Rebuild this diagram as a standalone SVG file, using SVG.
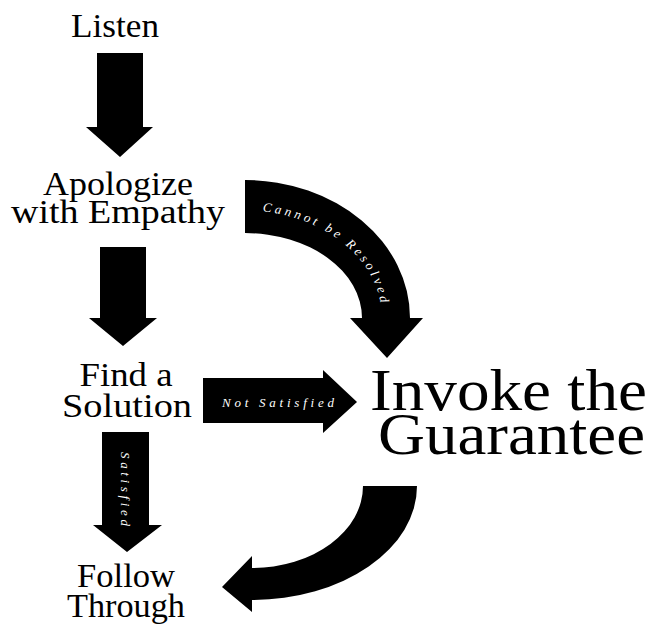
<svg xmlns="http://www.w3.org/2000/svg" width="656" height="631" viewBox="0 0 656 631">
  <style>
    .step { font-family: "Liberation Serif", "DejaVu Serif", serif; font-size: 34px; fill: #000; text-anchor: middle; }
    .big { font-family: "Liberation Serif", "DejaVu Serif", serif; font-size: 60px; fill: #000; }
    .arrow { fill: #000; }
    .tag { font-family: "Liberation Serif", "DejaVu Serif", serif; font-style: italic; font-size: 13px; fill: #fff; }
  </style>
  <defs>
    <path id="arcResolved" d="M245,206.5 A141,111.5 0 0 1 386,318"/>
  </defs>
  <rect width="656" height="631" fill="#fff"/>

  <!-- connectors -->
  <g id="connectors">
    <polygon class="arrow" points="97,53 143,53 143,127 153,127 120,157 86,127 97,127"/>
    <polygon class="arrow" points="100,247 146,247 146,318 157,318 123,346 89,318 100,318"/>
    <g id="satisfied">
      <polygon class="arrow" points="102,432 149,432 149,525 162,525 127,552 93,525 102,525"/>
      <text class="tag" transform="translate(121,489) rotate(90)" text-anchor="middle" textLength="74" lengthAdjust="spacing">Satisfied</text>
    </g>
    <g id="not-satisfied">
      <path class="arrow" d="M203,378 L323,378 L323,370 L357,402 L323,433 L323,423 L203,423 Z"/>
      <text class="tag" x="222" y="407" textLength="112" lengthAdjust="spacing">Not Satisfied</text>
    </g>
    <g id="cannot-be-resolved">
      <path class="arrow" d="M245,180 A165,138 0 0 1 410,318 L423,318 L387,358 L350,318 L362,318 A117,85 0 0 0 245,233 Z"/>
      <text class="tag" dy="4"><textPath href="#arcResolved" startOffset="18" textLength="165" lengthAdjust="spacing">Cannot be Resolved</textPath></text>
    </g>
    <path id="return-arrow" class="arrow" d="M363,486 L417,486 A165,114 0 0 1 252,600 L252,612 L222,587 L252,556 L252,568 A111,82 0 0 0 363,486 Z"/>
  </g>

  <!-- nodes -->
  <g id="listen">
    <text class="step" x="115" y="37" textLength="88" lengthAdjust="spacingAndGlyphs">Listen</text>
  </g>
  <g id="apologize">
    <text class="step" x="118" y="195" textLength="150" lengthAdjust="spacingAndGlyphs">Apologize</text>
    <text class="step" x="118" y="223" textLength="214" lengthAdjust="spacingAndGlyphs">with Empathy</text>
  </g>
  <g id="find-solution">
    <text class="step" x="126" y="386" textLength="93" lengthAdjust="spacingAndGlyphs">Find a</text>
    <text class="step" x="127" y="417" textLength="130" lengthAdjust="spacingAndGlyphs">Solution</text>
  </g>
  <g id="follow-through">
    <text class="step" x="126" y="587" textLength="98" lengthAdjust="spacingAndGlyphs">Follow</text>
    <text class="step" x="126" y="617" textLength="118" lengthAdjust="spacingAndGlyphs">Through</text>
  </g>
  <g id="invoke-guarantee">
    <text class="big" x="370" y="410" textLength="277" lengthAdjust="spacingAndGlyphs">Invoke the</text>
    <text class="big" x="378" y="454" textLength="267" lengthAdjust="spacingAndGlyphs">Guarantee</text>
  </g>
</svg>
